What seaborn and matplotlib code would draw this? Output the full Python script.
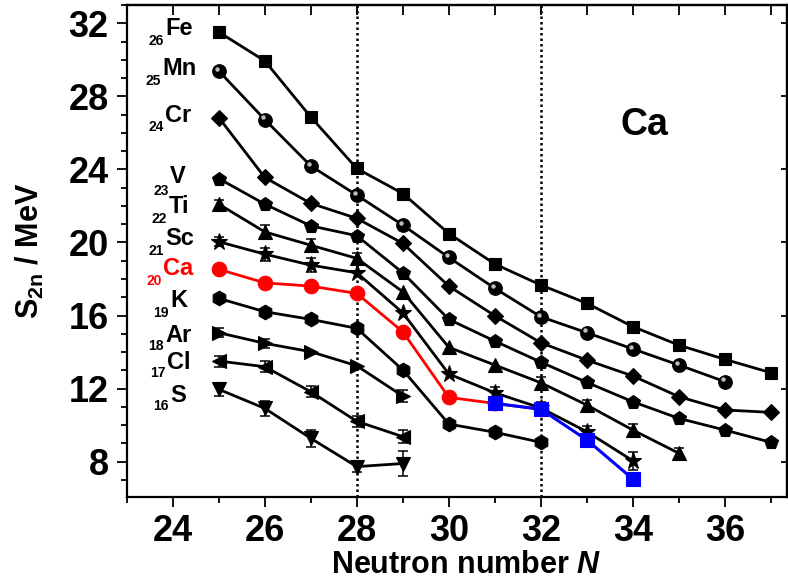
import matplotlib
matplotlib.use("Agg")
import matplotlib.pyplot as plt
import matplotlib.transforms as mtransforms
import seaborn as sns

# ---------------- data ----------------
N_Fe = [25, 26, 27, 28, 29, 30, 31, 32, 33, 34, 35, 36, 37]
Fe = [31.52, 29.94, 26.87, 24.05, 22.68, 20.49, 18.82, 17.67, 16.67, 15.39, 14.38, 13.60, 12.87]
N_Mn = [25, 26, 27, 28, 29, 30, 31, 32, 33, 34, 35, 36]
Mn = [29.39, 26.73, 24.19, 22.59, 20.95, 19.18, 17.49, 15.93, 15.06, 14.17, 13.29, 12.38]
N_Cr = [25, 26, 27, 28, 29, 30, 31, 32, 33, 34, 35, 36, 37]
Cr = [26.84, 23.56, 22.14, 21.32, 19.95, 17.61, 15.99, 14.51, 13.56, 12.69, 11.56, 10.83, 10.70]
N_V = [25, 26, 27, 28, 29, 30, 31, 32, 33, 34, 35, 36, 37]
V = [23.50, 22.10, 20.91, 20.37, 18.34, 15.79, 14.60, 13.45, 12.34, 11.28, 10.37, 9.73, 9.06]
N_Ti = [25, 26, 27, 28, 29, 30, 31, 32, 33, 34, 35]
Ti = [22.10, 20.58, 19.85, 19.13, 17.30, 14.26, 13.29, 12.32, 11.10, 9.73, 8.46]
Ti_err = [0.25, 0.40, 0.35, 0.30, 0.0, 0.0, 0.0, 0.30, 0.30, 0.35, 0.30]
N_Sc = [25, 26, 27, 28, 29, 30, 31, 32, 33, 34]
Sc = [20.04, 19.36, 18.76, 18.34, 16.15, 12.80, 11.77, 10.94, 9.64, 8.05]
Sc_err = [0.25, 0.35, 0.40, 0.0, 0.0, 0.0, 0.30, 0.30, 0.30, 0.50]
N_Ca = [25, 26, 27, 28, 29, 30, 31, 32]
Ca = [18.53, 17.79, 17.61, 17.21, 15.11, 11.52, 11.19, 10.87]
N_Ca_new = [31, 32, 33, 34]
Ca_new = [11.19, 10.87, 9.19, 7.05]
Ca_new_err = [0.0, 0.35, 0.25, 0.30]
N_K = [25, 26, 27, 28, 29, 30, 31, 32]
K = [16.94, 16.21, 15.79, 15.30, 13.02, 10.06, 9.61, 9.06]
N_Ar = [25, 26, 27, 28, 29]
Ar = [15.06, 14.48, 14.02, 13.25, 11.59]
Ar_err = [0.25, 0.25, 0.0, 0.0, 0.35]
N_Cl = [25, 26, 27, 28, 29]
Cl = [13.51, 13.20, 11.83, 10.21, 9.37]
Cl_err = [0.30, 0.30, 0.30, 0.30, 0.35]
N_S = [25, 26, 27, 28, 29]
S = [11.96, 10.92, 9.28, 7.73, 7.90]
S_err = [0.35, 0.40, 0.45, 0.30, 0.70]

x_ticks = [24, 26, 28, 30, 32, 34, 36]
y_ticks = [8, 12, 16, 20, 24, 28, 32]
magic_N = [28, 32]

# element labels: (symbol, Z, colour, x of symbol, baseline of symbol, baseline of Z)
labels = [
    ("Fe", "26", "black", 23.839, 31.34, 30.79),
    ("Mn", "25", "black", 23.767, 29.15, 28.60),
    ("Cr", "24", "black", 23.839, 26.60, 26.09),
    ("V", "23", "black", 23.948, 23.25, 22.59),
    ("Ti", "22", "black", 23.904, 21.61, 21.06),
    ("Sc", "21", "black", 23.839, 19.85, 19.31),
    ("Ca", "20", "red", 23.796, 18.21, 17.66),
    ("K", "19", "black", 23.948, 16.48, 15.93),
    ("Ar", "18", "black", 23.839, 14.56, 14.11),
    ("Cl", "17", "black", 23.876, 13.07, 12.65),
    ("S", "16", "black", 23.948, 11.28, 10.82),
]

# ---------------- style ----------------
sns.set_style("ticks")
plt.rcParams["font.family"] = ["Liberation Sans", "DejaVu Sans"]
plt.rcParams["font.weight"] = "bold"
plt.rcParams["text.color"] = "black"
plt.rcParams["axes.labelcolor"] = "black"
plt.rcParams["xtick.color"] = "black"
plt.rcParams["ytick.color"] = "black"
plt.rcParams["xtick.labelcolor"] = "black"
plt.rcParams["ytick.labelcolor"] = "black"
plt.rcParams["mathtext.fontset"] = "custom"
plt.rcParams["mathtext.rm"] = "Liberation Sans:bold"
plt.rcParams["mathtext.bf"] = "Liberation Sans:bold"
plt.rcParams["mathtext.it"] = "Liberation Sans:italic:bold"

fig = plt.figure(figsize=(7.88, 5.87), dpi=100)
ax = fig.add_axes([0.1608, 0.1528, 0.838, 0.8387])

series = [
    (N_Fe, Fe, None, "s", 8.8, "black"),
    (N_Mn, Mn, None, "o", 9.8, "black"),
    (N_Cr, Cr, None, "D", 8.6, "black"),
    (N_V, V, None, "p", 10.8, "black"),
    (N_Ti, Ti, Ti_err, "^", 9.8, "black"),
    (N_Sc, Sc, Sc_err, "*", 12.5, "black"),
    (N_K, K, None, "h", 10.5, "black"),
    (N_Ar, Ar, Ar_err, ">", 9.8, "black"),
    (N_Cl, Cl, Cl_err, "<", 9.8, "black"),
    (N_S, S, S_err, "v", 9.8, "black"),
]

for xs, ys, errs, mk, ms, col in series:
    if errs is not None:
        ex = [x for x, e in zip(xs, errs) if e > 0]
        ey = [y for y, e in zip(ys, errs) if e > 0]
        ee = [e for e in errs if e > 0]
        ax.errorbar(ex, ey, yerr=ee, fmt="none", ecolor="black",
                    elinewidth=1.1, capsize=3.5, capthick=1.1, zorder=2)
    sns.lineplot(x=xs, y=ys, ax=ax, color=col, marker=mk, markersize=ms,
                 markeredgecolor=col, markeredgewidth=0.8, linewidth=2.0,
                 errorbar=None, sort=False, legend=False, zorder=3)

# highlight on Mn spheres
hl = ax.transData + mtransforms.ScaledTranslation(-1.6 / 72, 1.6 / 72, fig.dpi_scale_trans)
ax.plot(N_Mn, Mn, ls="none", marker="o", ms=3.2, color="#bdbdbd",
        markeredgewidth=0, transform=hl, zorder=3.5)

# Ca (red) and new Ca (blue)
sns.lineplot(x=N_Ca, y=Ca, ax=ax, color="red", marker="o", markersize=10.5,
             markeredgecolor="red", markeredgewidth=0.8, linewidth=2.0,
             errorbar=None, sort=False, legend=False, zorder=4)
ex = [x for x, e in zip(N_Ca_new, Ca_new_err) if e > 0]
ey = [y for y, e in zip(Ca_new, Ca_new_err) if e > 0]
ee = [e for e in Ca_new_err if e > 0]
ax.errorbar(ex, ey, yerr=ee, fmt="none", ecolor="black", elinewidth=1.1,
            capsize=3.5, capthick=1.1, zorder=4.2)
sns.lineplot(x=N_Ca_new, y=Ca_new, ax=ax, color="blue", marker="s", markersize=9.5,
             markeredgecolor="blue", markeredgewidth=0.8, linewidth=2.2,
             errorbar=None, sort=False, legend=False, zorder=5)

for n in magic_N:
    ax.axvline(n, color="black", lw=1.8, ls=(0, (1, 1.2)), zorder=1)

# element labels
for sym, z, col, x0, yb, ys in labels:
    ax.text(x0, yb, sym, color=col, fontsize=17, fontweight="bold",
            ha="left", va="baseline", zorder=6)
    ax.text(x0 - 0.03, ys, z, color=col, fontsize=10, fontweight="bold",
            ha="right", va="baseline", zorder=6)

ax.text(33.73, 25.87, "Ca", fontsize=27, fontweight="bold", ha="left",
        va="baseline", color="black")

# axes
ax.set_xlim(23, 37.35)
ax.set_ylim(6.05, 33.0)
ax.set_xticks(x_ticks)
ax.set_xticks([23, 25, 27, 29, 31, 33, 35, 37], minor=True)
ax.set_yticks(y_ticks)
ax.set_yticks([v for v in range(7, 34) if v not in y_ticks], minor=True)
ax.set_xticklabels([str(t) for t in x_ticks])
ax.set_yticklabels([str(t) for t in y_ticks])
ax.tick_params(axis="both", which="major", direction="out", length=7, width=1.3,
               labelsize=26, pad=5, colors="black")
ax.tick_params(axis="both", which="minor", direction="out", length=4, width=1.3,
               colors="black")
ax.tick_params(axis="y", which="major", pad=6)
for lab in ax.get_xticklabels() + ax.get_yticklabels():
    lab.set_fontweight("bold")
    lab.set_color("black")

for sp in ax.spines.values():
    sp.set_visible(True)
    sp.set_linewidth(1.6)
    sp.set_color("black")

# top and right ticks pointing inward
top = ax.secondary_xaxis("top")
top.set_xticks(list(range(24, 38)))
top.tick_params(direction="in", length=7, width=1.3, labeltop=False, colors="black")
top.spines["top"].set_linewidth(1.6)
right = ax.secondary_yaxis("right")
right.set_yticks(y_ticks)
right.tick_params(direction="in", length=4, width=1.3, labelright=False, colors="black")
right.spines["right"].set_linewidth(1.6)

ax.set_xlabel(r"Neutron number $N$", fontsize=22, fontweight="bold", color="black")
ax.xaxis.set_label_coords(0.5145, -0.108)
ax.set_ylabel(r"S$_{\mathrm{2n}}$ / MeV", fontsize=22, fontweight="bold",
              labelpad=16, color="black")

fig.savefig("out.png", dpi=100)
